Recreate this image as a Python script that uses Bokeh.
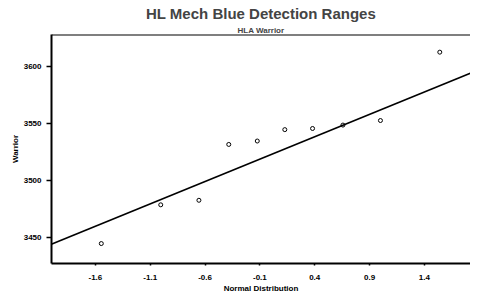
from bokeh.plotting import figure
from bokeh.models import FixedTicker, Slope, Span, Title, Range1d
from bokeh.embed import file_html
from bokeh.resources import INLINE

# data
normal_quantiles = [-1.546, -1.004, -0.656, -0.384, -0.124, 0.127, 0.380, 0.657, 0.999, 1.540]
warrior_ranges = [3445, 3479, 3483, 3532, 3535, 3545, 3546, 3549, 3553, 3613]
x_ticks = [-1.6, -1.1, -0.6, -0.1, 0.4, 0.9, 1.4]
y_ticks = [3450, 3500, 3550, 3600]
fit_intercept = 3523.0
fit_slope = 39.3
x_lo, x_hi = -2.0, 1.82
y_lo, y_hi = 3427.5, 3628.5

FONT = "Liberation Sans"

p = figure(width=470, height=295, output_backend="svg", toolbar_location=None,
           x_range=Range1d(x_lo, x_hi), y_range=Range1d(y_lo, y_hi),
           min_border_left=51, min_border_right=0, min_border_bottom=28, min_border_top=0)
p.outline_line_color = None
p.grid.grid_line_color = None
p.background_fill_color = "white"
p.border_fill_color = "white"

sub = Title(text="HLA Warrior", align="center", text_font=FONT, text_font_size="8px",
            text_font_style="bold", standoff=0)
main = Title(text="HL Mech Blue Detection Ranges", align="center", text_font=FONT,
             text_font_size="15px", text_font_style="bold", standoff=0, offset=0,
             padding=2)
p.add_layout(sub, "above")
p.add_layout(main, "above")

for ax in (p.xaxis[0], p.yaxis[0]):
    ax.axis_line_width = 2
    ax.axis_line_color = "black"
    ax.major_tick_line_color = "black"
    ax.major_tick_line_width = 1.5
    ax.minor_tick_line_color = None
    ax.major_label_text_font = FONT
    ax.major_label_text_font_size = "8px"
    ax.major_label_text_font_style = "bold"
    ax.major_label_text_color = "black"
    ax.axis_label_text_font = FONT
    ax.axis_label_text_font_size = "8px"
    ax.axis_label_text_font_style = "bold"
    ax.axis_label_text_color = "black"

p.xaxis.ticker = FixedTicker(ticks=x_ticks)
p.xaxis.major_label_overrides = {t: f"{t:.1f}" for t in x_ticks}
p.xaxis.major_tick_out = 2
p.xaxis.major_tick_in = 0
p.xaxis.major_label_standoff = 9
p.xaxis.axis_label = "Normal Distribution"
p.xaxis.axis_label_standoff = 1

p.yaxis.ticker = FixedTicker(ticks=y_ticks)
p.yaxis.major_tick_out = 5
p.yaxis.major_tick_in = 0
p.yaxis.major_label_standoff = 5
p.yaxis.major_label_orientation = "horizontal"
p.yaxis.axis_label = "Warrior"
p.yaxis.axis_label_standoff = 1

# top border of the frame
p.add_layout(Span(location=y_hi, dimension="width", line_color="black", line_width=2))

p.add_layout(Slope(gradient=fit_slope, y_intercept=fit_intercept, line_color="black", line_width=1.6))
p.scatter(normal_quantiles, warrior_ranges, marker="circle", size=4, fill_color="white",
          line_color="black", line_width=1)

open("out.html", "w").write(file_html(p, INLINE))
